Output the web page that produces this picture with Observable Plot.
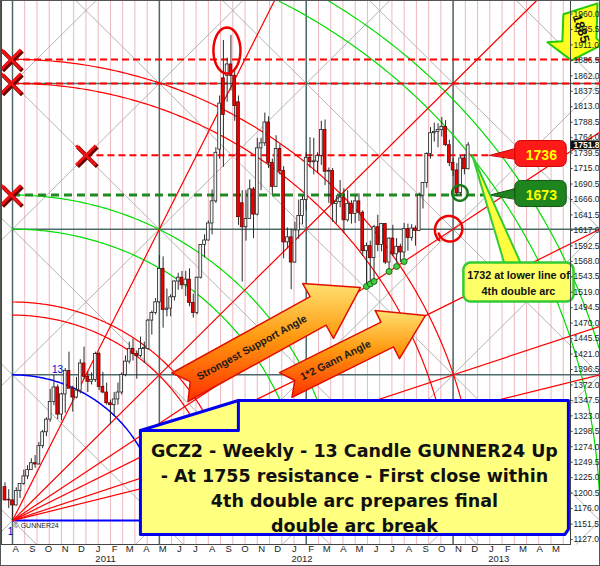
<!DOCTYPE html>
<html><head><meta charset="utf-8">
<script src="https://cdn.jsdelivr.net/npm/d3@7"></script>
<script src="https://cdn.jsdelivr.net/npm/@observablehq/plot@0.6"></script>
<style>
html,body{margin:0;padding:0;background:#fff;}
#chart{width:600px;height:566px;overflow:hidden;}
#chart svg{display:block;outline:1px solid #555;outline-offset:-1px;}
</style></head><body><div id="chart"></div>
<script>
const DAY = 864e5;

// ---------------- weekly OHLC (GCZ2), weeks starting Monday ----------------
const firstWeek = "2010-07-12";
const open = [
 1210,1190,1189,1181,1204,1215,1227,1237,1248,1246,1275,1297,1317,1345,1368,1325,1357,1394,1366,1352,1363,1406,1385,1377,1380,
 1421,1369,1360,1343,1340,1349,1360,1388,1409,1429, 1421,1418,1429,1429,1474,1486,1503,1556,1491,1493,
 1511,1536,1542,1530,1539,1502,1486,1542,1594,1601, 1628,1663,1745,1858,1862,1880,1862,1820,1660,1622,
 1635,1682,1642,1747,1755,1788,1724,1686,1746,1711, 1598,1606,
 1566,1617,1640,1665,1732,1725,1726,1735,1776,1710, 1711,1659,1662,1669,1633,1659,1643,1663,1645,1584,
 1592,1573,1622,1594,1627,1566,1604,1579,1591,1582, 1619,1605,1620,1616,1672,1692,1738,1771,1773,1776,
 1781,1752,1724,1712,1676,1731,1714];
const high = [
 1217,1206,1190,1209,1215,1237,1244,1255,1260,1281,1300,1320,1365,1387,1372,1359,1398,1424,1370,1384,1412,1432,1393,1391,1424,
 1424,1392,1375,1348,1360,1375,1391,1418,1440,1445, 1426,1448,1440,1476,1489,1509,1577,1575,1524,1515,
 1537,1549,1552,1552,1556,1516,1543,1594,1610,1632, 1681,1748,1830,1918,1890,1926,1870,1830,1680,1680,
 1697,1685,1763,1763,1803,1797,1730,1767,1753,1718, 1621,1619,
 1630,1665,1671,1740,1764,1763,1740,1790,1792,1716, 1715,1672,1696,1683,1680,1664,1671,1675,1648,1597,
 1600,1625,1641,1628,1628,1605,1625,1604,1595,1628, 1627,1626,1624,1676,1693,1740,1780,1787,1786,1796,
 1791,1760,1731,1723,1735,1737,1756];
const low = [
 1188,1176,1157,1180,1192,1213,1222,1237,1240,1245,1271,1290,1313,1339,1317,1315,1327,1366,1329,1350,1358,1381,1360,1372,1376,
 1363,1358,1340,1309,1323,1340,1356,1385,1405,1410, 1381,1415,1406,1427,1451,1483,1501,1462,1480,1480,
 1505,1522,1523,1512,1496,1478,1483,1540,1574,1600, 1610,1660,1730,1717,1820,1838,1790,1625,1535,1600,
 1635,1604,1640,1680,1750,1715,1674,1686,1705,1572, 1588,1523,
 1565,1603,1626,1648,1716,1705,1707,1720,1688,1660, 1630,1627,1653,1612,1630,1627,1628,1631,1576,1527,
 1533,1532,1583,1583,1563,1547,1576,1565,1566,1573, 1584,1600,1592,1615,1651,1684,1730,1757,1748,1765,
 1750,1718,1702,1671,1672,1705,1713];
const close = [
 1189,1189,1181,1204,1215,1227,1237,1248,1246,1275,1297,1317,1345,1368,1325,1357,1394,1366,1352,1363,1406,1385,1377,1380,1421,
 1369,1360,1343,1340,1349,1360,1388,1409,1429,1421, 1418,1429,1429,1474,1486,1503,1556,1491,1493,1511,
 1536,1542,1530,1539,1502,1486,1542,1594,1601,1628, 1663,1740,1818,1800,1880,1862,1814,1638,1622,1635,
 1682,1642,1747,1755,1788,1724,1686,1746,1711,1598, 1606,1566,
 1617,1640,1665,1732,1725,1726,1735,1776,1710,1711, 1659,1662,1669,1633,1659,1643,1663,1645,1584,1592,
 1573,1622,1594,1627,1566,1604,1579,1591,1582,1619, 1605,1620,1616,1672,1692,1738,1771,1773,1776,1781,
 1752,1724,1712,1676,1731,1714,1751.8];
const lastPrice = 1751.8;

// ---------------- axes ----------------
const xDomain = [new Date("2010-07-05T13:00:00Z"), new Date("2013-05-28T05:00:00Z")];
const yDomain = [1119.1, 1981.4];
const yTickLabels = [1127.0,1151.5,1176.0,1200.5,1225.0,1249.5,1274.0,1298.5,1323.0,1347.5,1372.0,1396.5,1421.0,1445.5,
  1470.0,1494.5,1519.0,1543.5,1568.0,1592.5,1617.0,1641.5,1666.0,1690.5,1715.0,1739.5,1764.0,1788.5,1813.0,1837.5,
  1862.0,1886.5,1911.0,1935.5,1960.0];
const monthStarts = ["2010-08-01","2010-09-01","2010-10-01","2010-11-01","2010-12-01","2011-01-01","2011-02-01","2011-03-01",
  "2011-04-01","2011-05-01","2011-06-01","2011-07-01","2011-08-01","2011-09-01","2011-10-01","2011-11-01","2011-12-01",
  "2012-01-01","2012-02-01","2012-03-01","2012-04-01","2012-05-01","2012-06-01","2012-07-01","2012-08-01","2012-09-01",
  "2012-10-01","2012-11-01","2012-12-01","2013-01-01","2013-02-01","2013-03-01","2013-04-01","2013-05-01"];
const monthLetters = ["J","F","M","A","M","J","J","A","S","O","N","D"];
const yearLabels = [{date:"2011-01-15", label:"2011"},{date:"2012-01-15", label:"2012"},{date:"2013-01-15", label:"2013"}];

// ---------------- GUNNER24 setup (square units) ----------------
const gannOrigin = "2010-07-26";
const gannLow = 1157;
const squareWeeks = 39;
const squarePrice = 231;
const arcsBlue = [1];
const arcsRed = [1.41, 1.5, 3, 3.165];
const arcsGreen = [2, 2.234, 4, 4.165];
const fanAngles = [[1,2],[1,1],[3,2],[2,1],[3,1],[4,1]];
const redLevels = [1888, 1850];
const level1736 = 1736, level1673 = 1673;
const touchWeeks = ["2012-05-14","2012-05-21","2012-05-28","2012-06-25","2012-07-09","2012-07-23"];

// ---------------- helpers ----------------
const t0 = Date.parse(gannOrigin);
const W = squareWeeks * 7;
const gx = u => new Date(t0 + u * W * DAY);
const gy = v => gannLow + v * squarePrice;
const toU = d => (+d - t0) / (W * DAY);
const toV = p => (p - gannLow) / squarePrice;
const P = (u, v, id) => ({x: gx(u), y: gy(v), id});
const U0 = toU(xDomain[0]), UMAX = 4.0;
const V0 = toV(yDomain[0]), V1 = toV(yDomain[1]);

const candles = open.map((o, i) => ({date: new Date(Date.parse(firstWeek) + i * 7 * DAY), open: o, high: high[i], low: low[i], close: close[i]}));
const up = candles.filter(d => d.close >= d.open), down = candles.filter(d => d.close < d.open);
const half = 2.6 * DAY;

const diag = [];
for (let k = -6; k <= 9; k++) {
  let a = Math.max(U0, V0 - k), b = Math.min(UMAX, V1 - k);
  if (a < b) diag.push({x1: gx(a), y1: gy(a + k), x2: gx(b), y2: gy(b + k)});
  a = Math.max(U0, k - V1); b = Math.min(UMAX, k - V0);
  if (a < b) diag.push({x1: gx(a), y1: gy(k - a), x2: gx(b), y2: gy(k - b)});
}
const pinkU = d3.range(0, 46).map(k => k / 12);
function arcPts(rs) {
  const out = [];
  rs.forEach((r, j) => { for (let i = 0; i <= 240; i++) { const th = i / 240 * Math.PI / 2; const u = r * Math.cos(th), v = r * Math.sin(th); if (u <= UMAX && v <= V1) out.push(P(u, v, j)); } });
  return out;
}
const fans = fanAngles.map(([a, b]) => { const t = Math.min(UMAX / a, V1 / b); return {x1: gx(0), y1: gy(0), x2: gx(a * t), y2: gy(b * t)}; });

function polyData(list) { const out = []; list.forEach((pts, j) => pts.forEach(([u, v]) => out.push(P(u, v, j)))); return out; }
function rrect(u1, v1, u2, v2, r) {
  const pts = [], cs = [[u2 - r, v2 - r, 0], [u1 + r, v2 - r, 90], [u1 + r, v1 + r, 180], [u2 - r, v1 + r, 270]];
  for (const [cu, cv, a0] of cs) for (let k = 0; k <= 6; k++) { const a = (a0 + k * 15) * Math.PI / 180; pts.push([cu + r * Math.cos(a), cv + r * Math.sin(a)]); }
  return pts;
}
function ellipse(cu, cv, ru, rv) { return d3.range(0, 48).map(i => { const a = i / 48 * 2 * Math.PI; return [cu + ru * Math.cos(a), cv + rv * Math.sin(a)]; }); }
function blockArrow(tail, tip, sw, hw, hl, notch) {
  const du = tip[0] - tail[0], dv = tip[1] - tail[1], L = Math.hypot(du, dv);
  const d = [du / L, dv / L], n = [-d[1], d[0]];
  const at = (a, b) => [tail[0] + d[0] * a + n[0] * b, tail[1] + d[1] * a + n[1] * b];
  return {pts: [at(0, sw), at(L - hl, sw), at(L - hl, hw), tip, at(L - hl, -hw), at(L - hl, -sw), at(0, -sw), at(notch, 0)],
          at, angle: -Math.atan2(dv * 145.7, du * 146.9) * 180 / Math.PI};
}

// annotations in square units
const arrow1 = blockArrow([1.14, 0.915], [2.369, 1.599], 0.112, 0.215, 0.33, 0.08);
const arrow2 = blockArrow([1.86, 0.93], [2.811, 1.407], 0.095, 0.185, 0.29, 0.07);
const textBox = [[0.871, 0.618], [1.538, 0.824], [3.785, 0.824], [3.785, -0.06], [3.76, -0.096], [0.871, -0.096]];
const dogEar = [[0.871, 0.618], [1.538, 0.618], [1.538, 0.824]];
const call1736 = {ptr: [[3.25, toV(level1736)], [3.45, 2.56], [3.45, 2.478]], body: rrect(3.42, 2.43, 3.77, 2.608, 0.04)};
const call1673 = {ptr: [[3.25, toV(level1673)], [3.45, 2.285], [3.45, 2.203]], body: rrect(3.42, 2.155, 3.77, 2.334, 0.04)};
const call1732 = {ptr: [[3.131, 2.505], [3.356, 1.74], [3.472, 1.74]], body: rrect(3.07, 1.503, 3.82, 1.771, 0.05)};
const arrow1885 = [[3.751, 3.475], [3.983, 3.549], [3.976, 3.309], [4.02, 3.268], [3.806, 3.158], [3.642, 3.282], [3.744, 3.289]];
const peakEllipse = ellipse(1.460, 3.226, 0.092, 0.158);
const lowCircle = ellipse(3.046, 2.248, 0.053, 0.053);
const curl = d3.range(0, 70).map(i => { const a = (200 + i * 5.6) * Math.PI / 180; const r = 0.097 * (0.8 + 0.25 * i / 70); return [2.975 + r * Math.cos(a), 1.997 + r * Math.sin(a)]; });
const xMarks = [[-0.01, toV(1888)], [-0.01, toV(1850)], [0.5, toV(level1736)], [-0.01, toV(level1673)]].map(([u, v]) => P(u, v));
const touches = touchWeeks.map(s => { const u = toU(Date.parse(s)); return P(u, u * 2 / 3); });

const F = "'Liberation Sans', Arial, sans-serif";
const chart = Plot.plot({
  width: 600, height: 566,
  marginLeft: 1, marginRight: 30, marginTop: 0, marginBottom: 22,
  style: {fontFamily: F, fontSize: "10px", background: "#ffffff", color: "#222", overflow: "hidden"},
  x: {type: "utc", domain: xDomain, axis: null},
  y: {type: "linear", domain: yDomain, axis: null},
  marks: [
    Plot.ruleX(pinkU.map(gx), {stroke: "#ecb8bf", strokeWidth: 1}),
    Plot.link(diag, {x1: "x1", y1: "y1", x2: "x2", y2: "y2", stroke: "#ababab", strokeWidth: 0.9}),
    Plot.ruleX([0, 1, 2, 3].map(gx), {stroke: "#4d6a6a", strokeWidth: 1.5}),
    Plot.ruleY([1, 2, 3].map(gy), {x1: gx(0), x2: gx(UMAX), stroke: "#4d6a6a", strokeWidth: 1.5}),
    Plot.ruleY([gy(0)], {x1: gx(0), x2: gx(0.9), stroke: "#0000ff", strokeWidth: 2}),
    Plot.line(arcPts(arcsGreen), {x: "x", y: "y", z: "id", stroke: "#00dd00", strokeWidth: 1.2}),
    Plot.line(arcPts(arcsRed), {x: "x", y: "y", z: "id", stroke: "#ff0000", strokeWidth: 1.2}),
    Plot.line(arcPts(arcsBlue), {x: "x", y: "y", z: "id", stroke: "#0000ff", strokeWidth: 1.5}),
    Plot.link(fans, {x1: "x1", y1: "y1", x2: "x2", y2: "y2", stroke: "#ff0000", strokeWidth: 1.2}),
    Plot.ruleY(redLevels, {x1: gx(0), x2: gx(UMAX), stroke: "#ff0000", strokeWidth: 2, strokeDasharray: "7,4"}),
    Plot.ruleY([level1736], {x1: gx(0.5), x2: gx(3.26), stroke: "#ff0000", strokeWidth: 2, strokeDasharray: "7,4"}),
    Plot.ruleY([level1673], {x1: gx(0), x2: gx(3.26), stroke: "#1f8a1f", strokeWidth: 3, strokeDasharray: "8,5"}),
    // candles
    Plot.ruleX(candles, {x: "date", y1: "low", y2: "high", stroke: "#2a2a2a", strokeWidth: 1}),
    Plot.rect(up, {x1: d => new Date(+d.date - half), x2: d => new Date(+d.date + half), y1: "open", y2: d => Math.max(d.close, d.open + 1.5), fill: "#f6f6f6", stroke: "#222", strokeWidth: 0.8}),
    Plot.rect(down, {x1: d => new Date(+d.date - half), x2: d => new Date(+d.date + half), y1: "open", y2: "close", fill: "#ee0000", stroke: "#6b0000", strokeWidth: 0.8}),
    // markers
    Plot.dot(touches, {x: "x", y: "y", r: 3, fill: "#44cc44", stroke: "#1a6a1a", strokeWidth: 1}),
    Plot.line(polyData([peakEllipse]), {x: "x", y: "y", z: "id", curve: "linear-closed", stroke: "#ee0000", strokeWidth: 2.5}),
    Plot.line(polyData([lowCircle]), {x: "x", y: "y", z: "id", curve: "linear-closed", stroke: "#1a7a1a", strokeWidth: 2.5}),
    Plot.line(polyData([curl]), {x: "x", y: "y", z: "id", stroke: "#ee0000", strokeWidth: 2.5}),
    Plot.dot(xMarks, {x: "x", y: "y", symbol: "times", r: 9, stroke: "#6b0000", strokeWidth: 4, dx: 1.5, dy: 1.5}),
    Plot.dot(xMarks, {x: "x", y: "y", symbol: "times", r: 9, stroke: "#ee1111", strokeWidth: 3}),
    // orange arrows
    Plot.line(polyData([arrow1.pts, arrow2.pts]), {x: "x", y: "y", z: "id", curve: "linear-closed", fill: "url(#ag)", stroke: "#e01000", strokeWidth: 1.5}),
    Plot.text([P(...arrow1.at(0.56, 0))], {x: "x", y: "y", text: () => "Strongest Support Angle", rotate: arrow1.angle, fontSize: 10.5, fontWeight: "bold", fill: "#1a1a1a"}),
    Plot.text([P(...arrow2.at(0.38, 0))], {x: "x", y: "y", text: () => "1*2 Gann Angle", rotate: arrow2.angle, fontSize: 10.5, fontWeight: "bold", fill: "#1a1a1a"}),
    // labels near origin
    Plot.text([P(0.306, 1.036)], {x: "x", y: "y", text: () => "13", fill: "#0000cc", fontSize: 10}),
    Plot.text([P(-0.014, -0.075)], {x: "x", y: "y", text: () => "1", fill: "#0000cc", fontSize: 10}),
    Plot.text([P(0.007, -0.038)], {x: "x", y: "y", text: () => "© GUNNER24", textAnchor: "start", fill: "#222", fontSize: 7}),
    // big text box
    Plot.line(polyData([textBox]), {x: "x", y: "y", z: "id", curve: "linear-closed", fill: "#ffff80", stroke: "#0000ee", strokeWidth: 3}),
    Plot.line(polyData([dogEar]), {x: "x", y: "y", z: "id", stroke: "#0000ee", strokeWidth: 3}),
    Plot.text([P(2.328, 0.233)], {x: "x", y: "y", text: () => "GCZ2 - Weekly - 13 Candle GUNNER24 Up\n- At 1755 resistance - First close within\n4th double arc prepares final\ndouble arc break",
      fontFamily: "'DejaVu Sans', Verdana, sans-serif", fontWeight: "bold", fontSize: 17.5, lineHeight: 1.44, fill: "#111"}),
    // callouts
    Plot.line(polyData([call1736.ptr, call1736.body]), {x: "x", y: "y", z: "id", curve: "linear-closed", fill: "#ff1a1a", stroke: "#cc0000", strokeWidth: 1}),
    Plot.text([P(3.601, toV(level1736))], {x: "x", y: "y", text: () => "1736", fill: "#ffff00", fontWeight: "bold", fontSize: 14}),
    Plot.line(polyData([call1673.ptr, call1673.body]), {x: "x", y: "y", z: "id", curve: "linear-closed", fill: "#1e841e", stroke: "#145214", strokeWidth: 1}),
    Plot.text([P(3.601, toV(level1673))], {x: "x", y: "y", text: () => "1673", fill: "#ffff00", fontWeight: "bold", fontSize: 14}),
    Plot.line(polyData([call1732.ptr]), {x: "x", y: "y", z: "id", curve: "linear-closed", fill: "#ffff40", stroke: "#33cc33", strokeWidth: 2}),
    Plot.line(polyData([call1732.body]), {x: "x", y: "y", z: "id", curve: "linear-closed", fill: "#ffff66", stroke: "#33cc33", strokeWidth: 2.5}),
    Plot.text([P(3.445, 1.637)], {x: "x", y: "y", text: () => "1732 at lower line of\n4th double arc", fill: "#111", fontWeight: "bold", fontSize: 10.8, lineHeight: 1.5}),
    Plot.line(polyData([arrow1885]), {x: "x", y: "y", z: "id", curve: "linear-closed", fill: "#ffff22", stroke: "#22cc00", strokeWidth: 2}),
    Plot.text([P(3.87, 3.375)], {x: "x", y: "y", text: () => "1885", rotate: 72, fill: "#111", fontWeight: "bold", fontSize: 13}),
    // axes
    Plot.frame({stroke: "#444", strokeWidth: 1}),
    Plot.text(yTickLabels, {y: d => d, frameAnchor: "right", dx: 3, textAnchor: "start", text: d => d.toFixed(1), fontSize: 8.5, fill: "#222"}),
    Plot.link(yTickLabels, {y1: d => d, y2: d => d, x1: xDomain[1], x2: new Date(+xDomain[1] + 4 * DAY), stroke: "#444"}),
    Plot.rect([lastPrice], {y1: d => d - 7, y2: d => d + 7, x1: new Date(+xDomain[1] + 1 * DAY), x2: new Date(+xDomain[1] + 60 * DAY), fill: "#111"}),
    Plot.text([lastPrice], {y: d => d, frameAnchor: "right", dx: 3, textAnchor: "start", text: d => d.toFixed(1), fontSize: 8.5, fontWeight: "bold", fill: "#fff"}),
    Plot.text(monthStarts, {x: d => new Date(d), frameAnchor: "bottom", dy: 7, text: d => monthLetters[new Date(d).getUTCMonth()], fontSize: 9.5, fill: "#222"}),
    Plot.text(yearLabels, {x: d => new Date(d.date), frameAnchor: "bottom", dy: 17, text: "label", fontSize: 9.5, fill: "#222"})
  ]
});
document.getElementById("chart").appendChild(chart);
d3.select(chart).insert("defs", ":first-child").html(
  '<linearGradient id="ag" x1="0" y1="0" x2="0" y2="1">' +
  '<stop offset="0" stop-color="#ffe070"/><stop offset="0.45" stop-color="#ff9a10"/><stop offset="1" stop-color="#ff3000"/></linearGradient>');
</script></body></html>
